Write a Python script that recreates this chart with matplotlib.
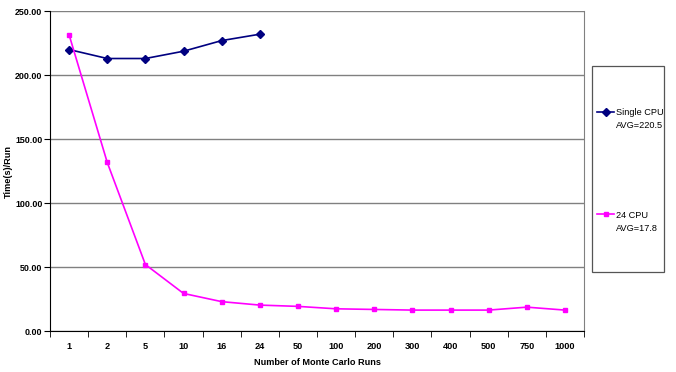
import numpy as np
from matplotlib import pyplot as plt
from matplotlib.ticker import FixedLocator
from matplotlib.patches import Rectangle

plt.rcParams['font.family'] = ['Liberation Sans', 'DejaVu Sans']

runs = ["1", "2", "5", "10", "16", "24", "50", "100", "200", "300", "400", "500", "750", "1000"]
single_cpu = [220.0, 213.0, 213.0, 218.7, 227.0, 232.0]
multi_cpu = [231.5, 131.8, 52.0, 29.4, 23.0, 20.3, 19.3, 17.4, 16.9, 16.4, 16.4, 16.4, 18.7, 16.4]
series_names = ["Single CPU", "24 CPU"]
series_avgs = ["AVG=220.5", "AVG=17.8"]

fig = plt.figure(figsize=(6.76, 3.72), dpi=100)
ax = fig.add_axes([0.074, 0.110, 0.790, 0.860])

x = np.arange(len(runs))
ax.plot(x[:len(single_cpu)], single_cpu, color="#000080", marker="D", markersize=4,
        linewidth=1.2, label=series_names[0])
ax.plot(x, multi_cpu, color="#ff00ff", marker="s", markersize=3.5,
        linewidth=1.2, label=series_names[1])

ax.set_xlim(-0.5, len(runs) - 0.5)
ax.set_ylim(0, 250)
ax.set_yticks(np.arange(0, 251, 50))
ax.set_yticklabels([f"{v:.2f}" for v in np.arange(0, 251, 50)], fontsize=6.4, fontweight="bold")
ax.set_xticks(x)
ax.set_xticklabels(runs, fontsize=6.6, fontweight="bold")
ax.tick_params(axis="x", length=0, pad=8)
ax.xaxis.set_minor_locator(FixedLocator(np.arange(-0.5, len(runs), 1)))
ax.tick_params(axis="x", which="minor", length=4, direction="out", color="black")
ax.tick_params(axis="y", length=4, direction="out", pad=1.5)

ax.grid(axis="y", color="#808080", linewidth=1)
ax.set_axisbelow(True)
ax.spines["top"].set_visible(False)
ax.spines["right"].set_color("#808080")
ax.spines["left"].set_color("black")
ax.spines["bottom"].set_color("black")

ax.set_ylabel("Time(s)/Run", fontsize=6.6, fontweight="bold", labelpad=1.5)
ax.set_xlabel("Number of Monte Carlo Runs", fontsize=6.6, fontweight="bold", labelpad=5)

# legend box drawn separately, entries placed inside it
fig.patches.append(Rectangle((592 / 676, 1 - 272 / 372), 72 / 676, 206 / 372,
                             transform=fig.transFigure, facecolor="white",
                             edgecolor="#555555", linewidth=0.9))
leg = fig.legend(loc="upper left", bbox_to_anchor=(597 / 676, 1 - 108 / 372), fontsize=6.6,
                 labelspacing=10.2, handlelength=1.9, handletextpad=0.15, borderpad=0,
                 frameon=False, borderaxespad=0)

# second label line under each legend entry
fig.canvas.draw()
for txt, avg in zip(leg.get_texts(), series_avgs):
    bb = txt.get_window_extent()
    fig.text(bb.x0 / fig.bbox.width, (bb.y0 - 13.5) / fig.bbox.height, avg,
             fontsize=6.6, ha="left", va="bottom")

fig.savefig("out.png", dpi=100)
